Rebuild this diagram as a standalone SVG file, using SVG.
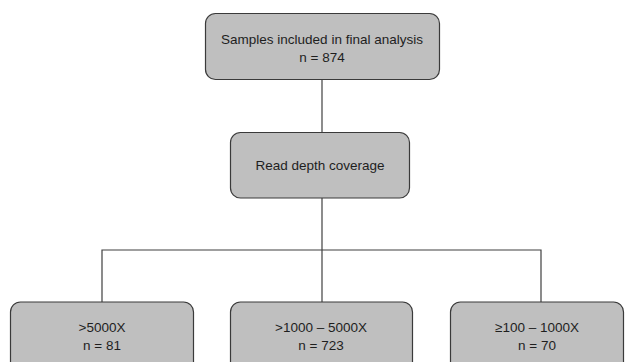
<svg xmlns="http://www.w3.org/2000/svg" width="625" height="362" viewBox="0 0 625 362">
<style>
.box{fill:#bfbfbf;stroke:#3a3a3a;stroke-width:1.2}
.lbl{font-family:"Liberation Sans",Arial,sans-serif;font-size:13.5px;fill:#1e1e1e;text-anchor:middle}
.conn{stroke:#404040;stroke-width:1.2;fill:none}
</style>
<rect width="625" height="362" fill="#fff"/>
<g id="connectors">
<path class="conn" d="M322 80V132"/>
<path class="conn" d="M322 198V302"/>
<path class="conn" d="M102 302V250H541V302"/>
</g>
<g id="n-samples">
<rect class="box" x="205.5" y="13.5" width="234" height="66" rx="10"/>
<text class="lbl" x="322" y="43.5">Samples included in final analysis</text>
<text class="lbl" x="322" y="61.5">n = 874</text>
</g>
<g id="n-depth">
<rect class="box" x="230.5" y="132.5" width="179" height="65.5" rx="10"/>
<text class="lbl" x="320" y="170">Read depth coverage</text>
</g>
<g id="n-5000">
<rect class="box" x="10.5" y="302" width="183" height="75" rx="10"/>
<text class="lbl" x="102" y="331.5">&gt;5000X</text>
<text class="lbl" x="102" y="349.5">n = 81</text>
</g>
<g id="n-1000">
<rect class="box" x="230.5" y="302" width="182" height="75" rx="10"/>
<text class="lbl" x="321" y="331.5">&gt;1000 – 5000X</text>
<text class="lbl" x="321" y="349.5">n = 723</text>
</g>
<g id="n-100">
<rect class="box" x="450.5" y="302" width="173" height="75" rx="10"/>
<text class="lbl" x="537" y="331.5">≥100 – 1000X</text>
<text class="lbl" x="537" y="349.5">n = 70</text>
</g>
</svg>
